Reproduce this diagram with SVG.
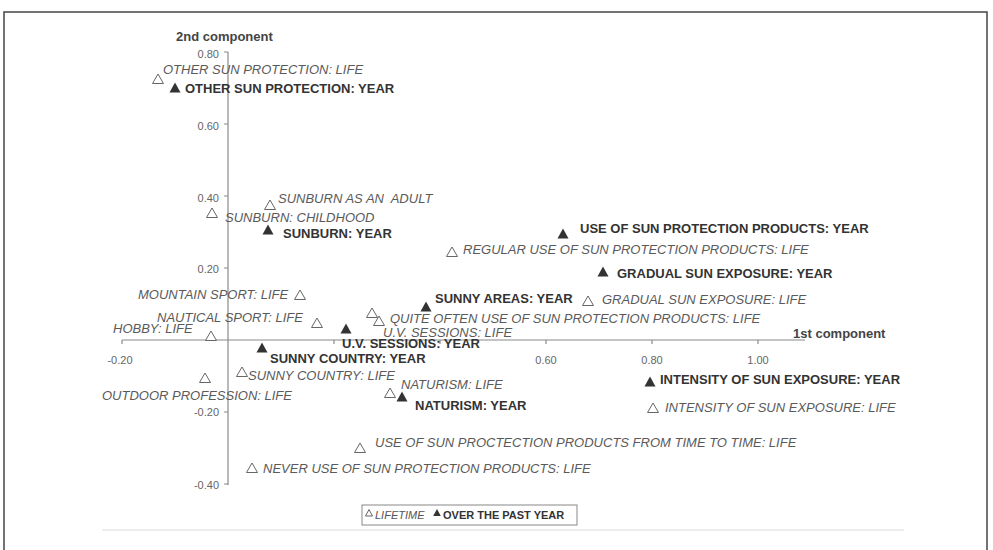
<svg xmlns="http://www.w3.org/2000/svg" width="993" height="550" viewBox="0 0 993 550">
<style>
.ax{stroke:#8a8a8a;stroke-width:1.2;fill:none}
.tk{font-family:"Liberation Sans",Arial,sans-serif;font-size:11px;fill:#666}
.ttl{font-family:"Liberation Sans",Arial,sans-serif;font-size:13px;font-weight:bold;fill:#444}
.li{font-family:"Liberation Sans",Arial,sans-serif;font-size:13px;font-style:italic;fill:#5a5a5a}
.yr{font-family:"Liberation Sans",Arial,sans-serif;font-size:13px;font-weight:bold;fill:#333}
.lg{font-family:"Liberation Sans",Arial,sans-serif;font-size:11px}
</style>
<defs>
<polygon id="op" points="0,-5 5.5,4.5 -5.5,4.5" fill="#fff" stroke="#666" stroke-width="1"/>
<polygon id="fi" points="0,-5.5 5.5,4.5 -5.5,4.5" fill="#333"/>
<polygon id="ops" points="0,-3.5 3.5,3 -3.5,3" fill="#fff" stroke="#555" stroke-width="0.9"/>
<polygon id="fis" points="0,-4 3.8,3 -3.8,3" fill="#333"/>
</defs>
<rect x="4" y="12" width="983" height="560" fill="#fff" stroke="#444" stroke-width="1.5"/>
<line x1="102" y1="530" x2="904" y2="530" stroke="#e6e6e6" stroke-width="1.5"/>
<g id="axes">
<line class="ax" x1="228" y1="52" x2="228" y2="485"/>
<line class="ax" x1="122" y1="340" x2="805" y2="340"/>
<path class="ax" d="M224 52H228M224 124H228M224 196H228M224 268H228M224 412H228M224 484H228"/>
<path class="ax" d="M122 340V344M334 340V344M440 340V344M546 340V344M652 340V344M758 340V344"/>
</g>
<g id="axis-labels">
<text class="ttl" x="176" y="41">2nd component</text>
<text class="ttl" x="793" y="338">1st component</text>
<g class="tk" text-anchor="end">
<text x="219" y="58">0.80</text>
<text x="219" y="130">0.60</text>
<text x="219" y="202">0.40</text>
<text x="219" y="273">0.20</text>
<text x="219" y="416">-0.20</text>
<text x="219" y="489">-0.40</text>
</g>
<g class="tk" text-anchor="middle">
<text x="120" y="364">-0.20</text>
<text x="546" y="364">0.60</text>
<text x="652" y="364">0.80</text>
<text x="758" y="364">1.00</text>
</g>
</g>
<g id="n-other-life"><use href="#op" x="158" y="79"/><text class="li" x="163" y="74">OTHER SUN PROTECTION: LIFE</text></g>
<g id="n-other-year"><use href="#fi" x="175" y="88"/><text class="yr" x="185" y="93">OTHER SUN PROTECTION: YEAR</text></g>
<g id="n-sunburn-adult"><use href="#op" x="270" y="205"/><text class="li" x="278" y="203" xml:space="preserve">SUNBURN AS AN  ADULT</text></g>
<g id="n-sunburn-child"><use href="#op" x="212" y="213"/><text class="li" x="225" y="222">SUNBURN: CHILDHOOD</text></g>
<g id="n-sunburn-year"><use href="#fi" x="268" y="230"/><text class="yr" x="283" y="238">SUNBURN: YEAR</text></g>
<g id="n-regular-life"><use href="#op" x="452" y="252"/><text class="li" x="463" y="254">REGULAR USE OF SUN PROTECTION PRODUCTS: LIFE</text></g>
<g id="n-use-year"><use href="#fi" x="563" y="234"/><text class="yr" x="580" y="233">USE OF SUN PROTECTION PRODUCTS: YEAR</text></g>
<g id="n-gradual-year"><use href="#fi" x="603" y="272"/><text class="yr" x="617" y="278">GRADUAL SUN EXPOSURE: YEAR</text></g>
<g id="n-sunnyareas-year"><use href="#fi" x="426" y="307"/><text class="yr" x="435" y="303">SUNNY AREAS: YEAR</text></g>
<g id="n-gradual-life"><use href="#op" x="588" y="301"/><text class="li" x="602" y="304">GRADUAL SUN EXPOSURE: LIFE</text></g>
<g id="n-quite-life"><use href="#op" x="372" y="313"/><text class="li" x="390" y="323">QUITE OFTEN USE OF SUN PROTECTION PRODUCTS: LIFE</text></g>
<g id="n-uv-life"><use href="#op" x="379" y="321"/><text class="li" x="383" y="337">U.V. SESSIONS: LIFE</text></g>
<g id="n-uv-year"><use href="#fi" x="346" y="329"/><text class="yr" x="342" y="348">U.V. SESSIONS: YEAR</text></g>
<g id="n-mountain-life"><use href="#op" x="300" y="295"/><text class="li" x="138" y="299">MOUNTAIN SPORT: LIFE</text></g>
<g id="n-nautical-life"><use href="#op" x="317" y="323"/><text class="li" x="157" y="322">NAUTICAL SPORT: LIFE</text></g>
<g id="n-hobby-life"><use href="#op" x="211" y="336"/><text class="li" x="113" y="333">HOBBY: LIFE</text></g>
<g id="n-sunnycountry-year"><use href="#fi" x="262" y="348"/><text class="yr" x="270" y="363">SUNNY COUNTRY: YEAR</text></g>
<g id="n-sunnycountry-life"><use href="#op" x="242" y="372"/><text class="li" x="248" y="380">SUNNY COUNTRY: LIFE</text></g>
<g id="n-outdoor-life"><use href="#op" x="205" y="378"/><text class="li" x="102" y="400">OUTDOOR PROFESSION: LIFE</text></g>
<g id="n-naturism-life"><use href="#op" x="390" y="393"/><text class="li" x="401" y="389">NATURISM: LIFE</text></g>
<g id="n-naturism-year"><use href="#fi" x="402" y="397"/><text class="yr" x="415" y="410">NATURISM: YEAR</text></g>
<g id="n-intensity-year"><use href="#fi" x="650" y="382"/><text class="yr" x="660" y="384">INTENSITY OF SUN EXPOSURE: YEAR</text></g>
<g id="n-intensity-life"><use href="#op" x="653" y="408"/><text class="li" x="665" y="412">INTENSITY OF SUN EXPOSURE: LIFE</text></g>
<g id="n-timetotime-life"><use href="#op" x="360" y="448"/><text class="li" x="375" y="447">USE OF SUN PROCTECTION PRODUCTS FROM TIME TO TIME: LIFE</text></g>
<g id="n-never-life"><use href="#op" x="252" y="468"/><text class="li" x="263" y="473">NEVER USE OF SUN PROTECTION PRODUCTS: LIFE</text></g>
<g id="legend">
<rect x="362" y="505" width="215" height="20" fill="#fff" stroke="#888" stroke-width="1"/>
<use href="#ops" x="369" y="513"/>
<text class="lg" x="375" y="519" font-style="italic" fill="#555">LIFETIME</text>
<use href="#fis" x="437" y="513"/>
<text class="lg" x="443" y="519" font-weight="bold" fill="#333">OVER THE PAST YEAR</text>
</g>
</svg>
